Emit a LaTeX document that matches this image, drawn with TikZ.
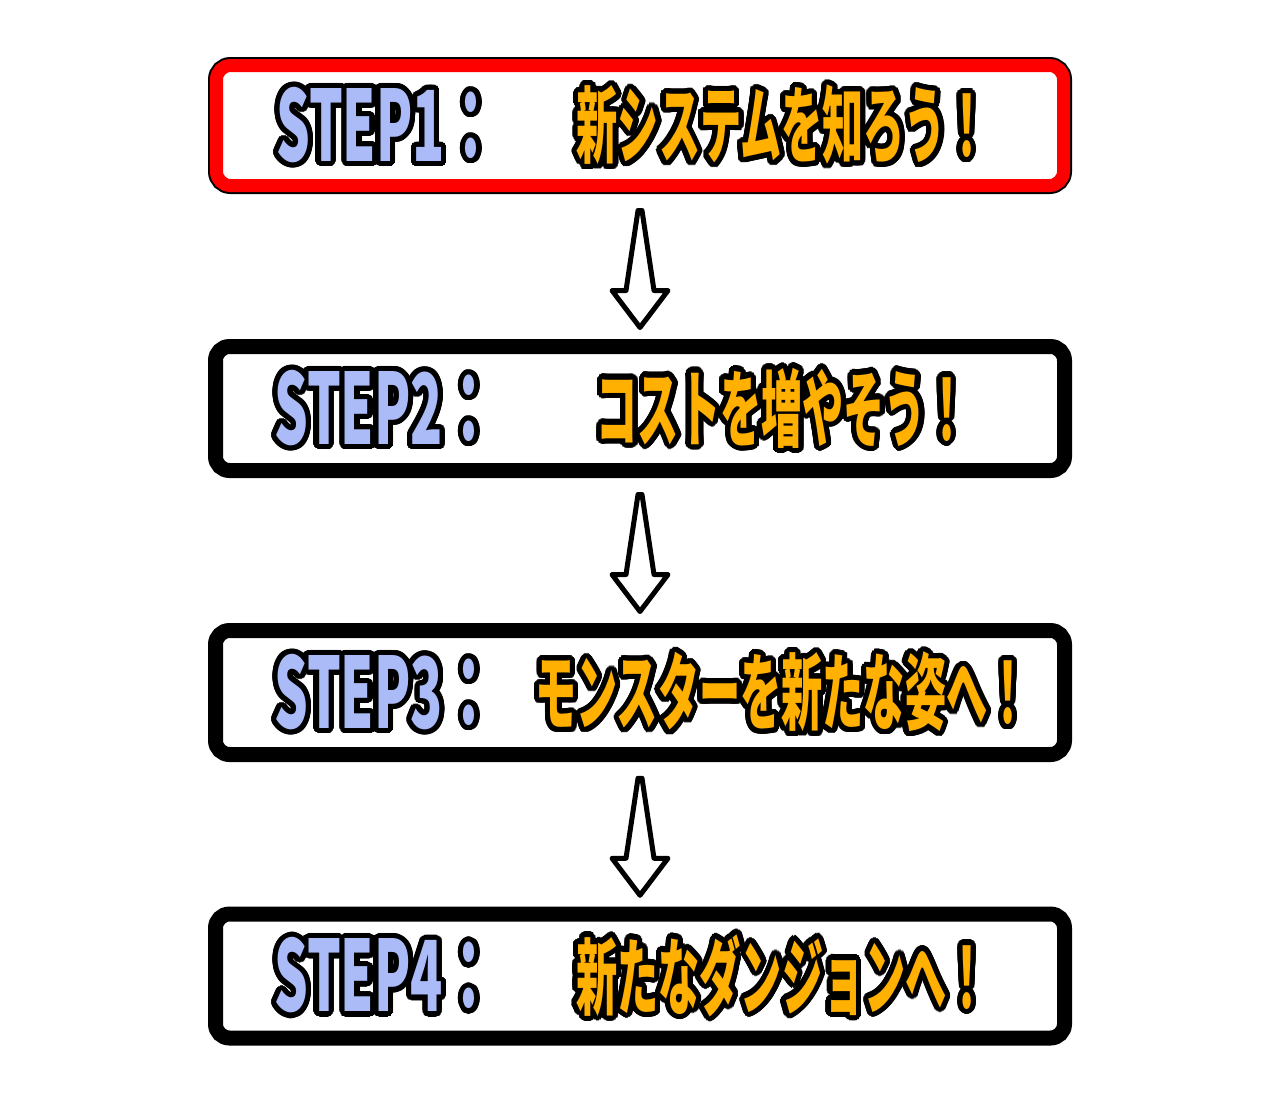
\documentclass[tikz,border=0pt]{standalone}
\usepackage{fontspec}
\usepackage{contour}
\usetikzlibrary{positioning,calc}
\newfontfamily\jpfont{Noto Sans CJK JP Black}[FakeStretch=0.49]
\newfontfamily\stepfont{Noto Sans CJK JP Black}[FakeStretch=0.54]
\definecolor{stepColor}{HTML}{AABBF8}
\definecolor{goalColor}{HTML}{FFB000}
\contourlength{2.6pt}
\contournumber{32}
\tikzset{
	step box/.style={draw=black, fill=white, line width=7.5pt, rounded corners=7pt,
		minimum width=424.5pt, minimum height=62pt},
	first box/.style={step box, draw=red, line width=6.5pt, minimum width=423.5pt,
		minimum height=60pt, preaction={draw=black, line width=8.5pt}},
	step label/.style={inner sep=0pt, anchor=west, text=stepColor,
		font=\stepfont\fontsize{49}{49}\selectfont},
	goal label/.style={inner sep=0pt, text=goalColor,
		font=\jpfont\fontsize{42}{42}\selectfont},
	down arrow/.pic={\draw[line width=2.5pt, line join=round, fill=white]
		(-2,-59) -- (2,-59) -- (14,21) -- (28,21) -- (0,58) -- (-28,21) -- (-14,21) -- cycle;}
}
\newcommand{\outlined}[1]{\contour{black}{#1}}
\begin{document}
\begin{tikzpicture}[x=0.5pt, y=-0.5pt]
	\useasboundingbox (0,0) rectangle (1280,1100);
	\node[first box] at (640,125.5) (s1) {};
	\node[step box]  at (640,408.5) (s2) {};
	\node[step box]  at (640,692.5) (s3) {};
	\node[step box]  at (640,976)   (s4) {};
	\node[step label] at ($(s1.west)+(66,2)$) (l1) {\outlined{STEP1：}};
	\node[step label] at ($(s2.west)+(66,2)$) (l2) {\outlined{STEP2：}};
	\node[step label] at ($(s3.west)+(66,2)$) (l3) {\outlined{STEP3：}};
	\node[step label] at ($(s4.west)+(66,2)$) (l4) {\outlined{STEP4：}};
	\node[goal label] at ($(s1.center)+(142,2)$) (g1) {\outlined{新システムを知ろう！}};
	\node[goal label] at ($(s2.center)+(142,2)$) (g2) {\outlined{コストを増やそう！}};
	\node[goal label] at ($(s3.center)+(142,2)$) (g3) {\outlined{モンスターを新たな姿へ！}};
	\node[goal label] at ($(s4.center)+(142,2)$) (g4) {\outlined{新たなダンジョンへ！}};
	\pic at ($(s1.south)!0.5!(s2.north)+(0,4)$) {down arrow};
	\pic at ($(s2.south)!0.5!(s3.north)+(0,3)$) {down arrow};
	\pic at ($(s3.south)!0.5!(s4.north)+(0,3)$) {down arrow};
\end{tikzpicture}
\end{document}
